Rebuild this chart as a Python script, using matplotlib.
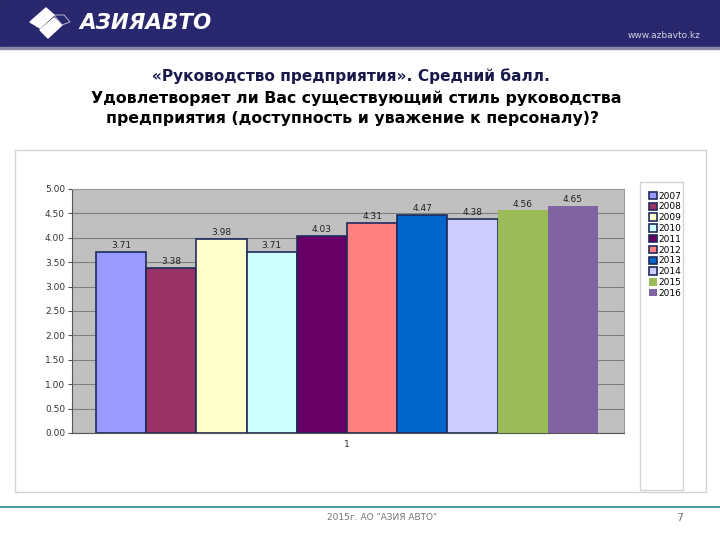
import matplotlib.pyplot as plt
from matplotlib.patches import Rectangle, Polygon

# data
years = ['2007', '2008', '2009', '2010', '2011', '2012', '2013', '2014', '2015', '2016']
scores = [3.71, 3.38, 3.98, 3.71, 4.03, 4.31, 4.47, 4.38, 4.56, 4.65]
colors = ['#9999ff', '#993366', '#ffffcc', '#ccffff', '#660066',
          '#ff8080', '#0066cc', '#ccccff', '#9bbb59', '#8064a2']
edges = ['#1f2a5a'] * 8 + ['none', 'none']
yticks = [0.0, 0.5, 1.0, 1.5, 2.0, 2.5, 3.0, 3.5, 4.0, 4.5, 5.0]

W, H = 720, 540
fig = plt.figure(figsize=(7.2, 5.4), dpi=100)
fig.patch.set_facecolor('white')

# background layer in pixel coords
bg = fig.add_axes([0, 0, 1, 1])
bg.set_xlim(0, W)
bg.set_ylim(H, 0)
bg.axis('off')

# header band
bg.add_patch(Rectangle((0, 0), W, 47, color='#29286e', zorder=1))
bg.add_patch(Rectangle((0, 47), W, 2, color='#8a8aa8', zorder=1))
# logo mark
bg.add_patch(Polygon([[30, 22], [46, 8], [54, 15], [40, 28]], closed=True, color='white', zorder=2))
bg.add_patch(Polygon([[40, 30], [54, 18], [62, 25], [48, 38]], closed=True, color='white', zorder=2))
bg.add_patch(Polygon([[54, 15], [64, 15], [70, 22], [62, 25]], closed=True, fill=False,
                     edgecolor='#c8c8e0', lw=0.6, zorder=2))
bg.text(79, 23, 'АЗИЯАВТО', color='white', fontsize=15.5, fontweight='bold',
        fontstyle='italic', va='center', ha='left', zorder=3)
bg.text(700, 35, 'www.azbavto.kz', color='#d0d0e0', fontsize=6.5, va='center', ha='right')

# titles
bg.text(351, 76, '«Руководство предприятия». Средний балл.', color='#1a1a4a',
        fontsize=11.1, fontweight='bold', ha='center', va='center')
bg.text(356, 98, 'Удовлетворяет ли Вас существующий стиль руководства', color='black',
        fontsize=11.3, fontweight='bold', ha='center', va='center')
bg.text(352, 118, 'предприятия (доступность и уважение к персоналу)?', color='black',
        fontsize=11.3, fontweight='bold', ha='center', va='center')

# chart frame
bg.add_patch(Rectangle((15, 150), 691, 342, fill=False, edgecolor='#d4d4d4', lw=1))

# footer
bg.plot([0, W], [507, 507], color='#4e9c9c', lw=1.5)
bg.text(382, 518, '2015г. АО "АЗИЯ АВТО"', color='#777777', fontsize=6.5, ha='center', va='center')
bg.text(680, 518, '7', color='#777777', fontsize=8, ha='center', va='center')

# chart
ax = fig.add_axes([72 / W, 1 - 433 / H, 552 / W, 244 / H])
ax.set_facecolor('#c0c0c0')
x = list(range(len(years)))
bars = ax.bar(x, scores, width=1.0, color=colors, edgecolor=edges, linewidth=1.2,
              zorder=3, label=None)
for xi, v in zip(x, scores):
    ax.text(xi, v + 0.04, f'{v:.2f}', ha='center', va='bottom', fontsize=6.5,
            color='#222222', zorder=4)
ax.set_xlim(-0.98, 10.02)
ax.set_ylim(0, 5)
ax.set_yticks(yticks)
ax.set_yticklabels([f'{t:.2f}' for t in yticks], fontsize=6.5, color='#333333')
ax.set_xticks([4.5])
ax.set_xticklabels(['1'], fontsize=6.5, color='#333333')
ax.tick_params(axis='x', length=0, pad=5)
ax.tick_params(axis='y', length=3, width=0.8, color='#555555', pad=2)
ax.grid(axis='y', color='#808080', lw=0.8, zorder=1)
for s in ['top', 'right']:
    ax.spines[s].set_color('#999999')
for s in ['left', 'bottom']:
    ax.spines[s].set_color('#555555')

# legend
leg = fig.legend(bars, years, loc='upper left', bbox_to_anchor=(645 / W, 1 - 188 / H),
                 fontsize=6.5, frameon=False, handlelength=0.9, handleheight=0.9,
                 handletextpad=0.2, labelspacing=0.2, borderaxespad=0)
bg.add_patch(Rectangle((640, 182), 43, 308, fill=False, edgecolor='#d4d4d4', lw=1))

fig.savefig('out.png', dpi=100)
